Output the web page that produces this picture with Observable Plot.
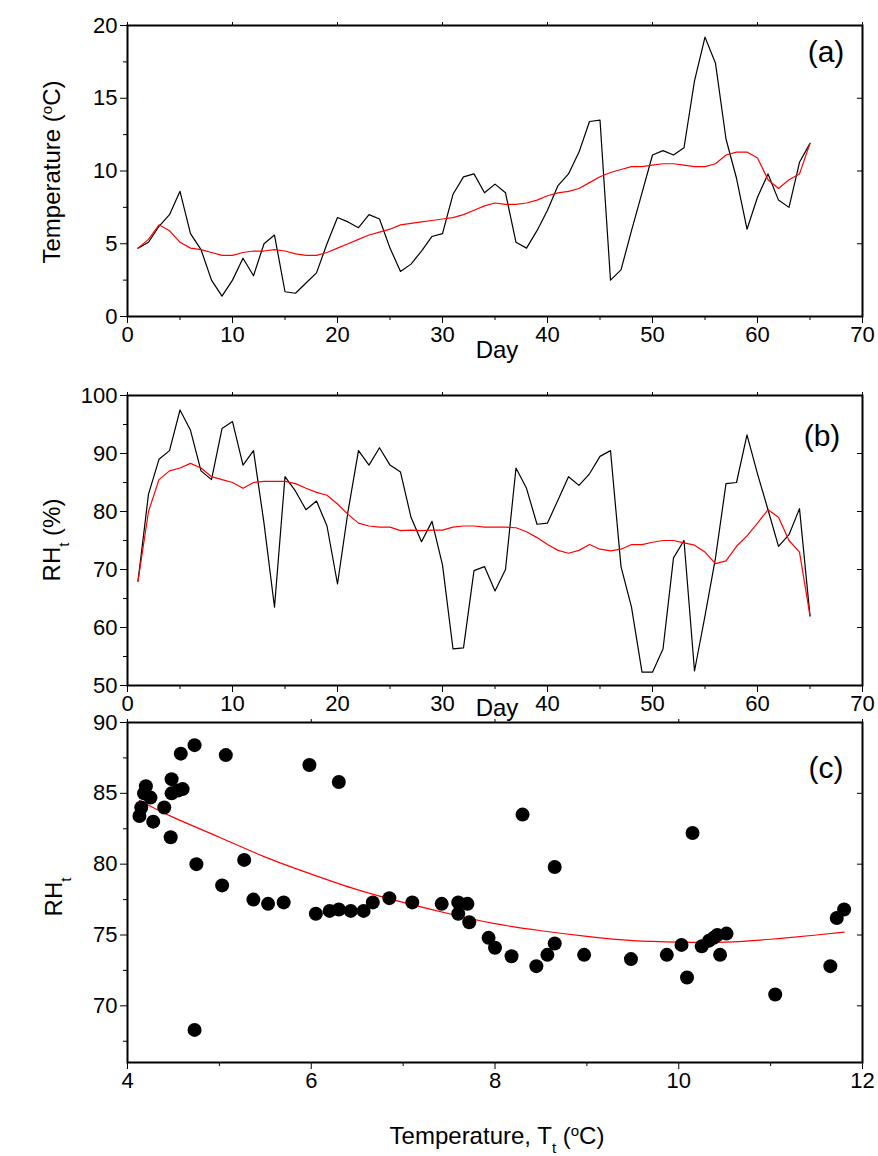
<!DOCTYPE html>
<html>
<head>
<meta charset="utf-8">
<script src="https://cdn.jsdelivr.net/npm/d3@7"></script>
<script src="https://cdn.jsdelivr.net/npm/@observablehq/plot@0.6"></script>
<style>
  body { margin: 0; background: #fff; }
  #wrap { position: relative; width: 878px; height: 1156px; }
  #wrap svg { position: absolute; left: 0; font-family: "Liberation Sans", Arial, sans-serif; overflow: visible; background: none; }
</style>
</head>
<body>
<div id="wrap"></div>
<script>
// day number for panels (a) and (b)
const days = d3.range(1, 66)
// panel (a): daily temperature and its running mean
const tempDaily = [4.7,5.1,6.2,7.0,8.6,5.7,4.6,2.5,1.4,2.5,4.0,2.8,5.0,5.6,1.7,1.6,2.3,3.0,5.0,6.8,6.5,6.1,7.0,6.7,4.7,3.1,3.6,4.5,5.5,5.7,8.4,9.6,9.8,8.5,9.1,8.5,5.1,4.7,5.9,7.3,9.0,9.8,11.3,13.4,13.5,2.5,3.2,5.9,8.5,11.1,11.4,11.1,11.6,16.2,19.2,17.4,12.2,9.5,6.0,8.2,9.8,8.0,7.5,10.6,11.9]
const tempMean = [4.7,5.3,6.3,5.9,5.1,4.7,4.6,4.4,4.2,4.2,4.4,4.5,4.5,4.6,4.5,4.3,4.2,4.2,4.4,4.7,5.0,5.3,5.6,5.8,6.0,6.3,6.4,6.5,6.6,6.7,6.8,7.0,7.3,7.6,7.8,7.7,7.7,7.8,8.0,8.3,8.5,8.6,8.8,9.2,9.6,9.9,10.1,10.3,10.3,10.4,10.5,10.5,10.4,10.3,10.3,10.5,11.1,11.3,11.3,10.9,9.4,8.8,9.4,9.8,11.9]
// panel (b): daily relative humidity and its running mean
const rhDaily = [68,83,89,90.5,97.5,94,87,85.5,94.3,95.5,88,90.5,78,63.5,86,83.5,80.3,81.8,77.5,67.5,80,90.5,88,91,88,86.8,79,74.8,78.3,70.8,56.3,56.5,69.8,70.5,66.3,70,87.5,84,77.8,78,82,86,84.5,86.5,89.5,90.5,70.5,63.5,52.3,52.3,56.3,72,75,52.5,62,72,84.8,85,93.2,86.5,80.3,74,76,80.5,62]
const rhMean = [68,80,85.5,87,87.5,88.3,87.5,86,85.5,85,84,85,85.2,85.2,85.2,84.8,84,83.3,82.8,81.3,79.5,78,77.5,77.3,77.3,76.7,76.8,76.7,76.8,76.8,77.3,77.5,77.5,77.3,77.3,77.3,77.2,76.5,75.5,74.3,73.3,72.8,73.3,74.3,73.5,73.2,73.5,74.3,74.3,74.7,75,75,74.6,74.2,73,71,71.5,74,75.8,78,80.3,79,75,73,62]
// panel (c): scatter of RH against temperature, with fitted curve
const scatT = [4.13,4.15,4.18,4.2,4.25,4.28,4.4,4.47,4.48,4.48,4.55,4.6,4.58,4.73,4.75,4.73,5.03,5.07,5.27,5.37,5.53,5.7,5.98,6.05,6.2,6.3,6.3,6.43,6.57,6.67,6.85,7.1,7.42,7.6,7.6,7.7,7.72,7.93,8.0,8.18,8.3,8.45,8.57,8.65,8.65,8.97,9.48,9.87,10.03,10.09,10.15,10.25,10.33,10.38,10.42,10.45,10.52,11.05,11.65,11.72,11.8]
const scatRH = [83.4,84.0,85.0,85.5,84.7,83.0,84.0,81.9,85.0,86.0,85.2,85.3,87.8,88.4,80.0,68.3,78.5,87.7,80.3,77.5,77.2,77.3,87.0,76.5,76.7,76.8,85.8,76.7,76.7,77.3,77.6,77.3,77.2,77.3,76.5,77.2,75.9,74.8,74.1,73.5,83.5,72.8,73.6,74.4,79.8,73.6,73.3,73.6,74.3,72.0,82.2,74.2,74.6,74.8,75.0,73.6,75.1,70.8,72.8,76.2,76.8]
const fitT = [4.13,4.5,5,5.5,6,6.5,7,7.5,8,8.5,9,9.5,10,10.5,11,11.5,11.8]
const fitRH = [84.5,83.3,81.9,80.5,79.3,78.2,77.3,76.5,75.8,75.3,74.9,74.6,74.5,74.5,74.7,75.0,75.2]

const font = "Liberation Sans, Arial, sans-serif"
const wrap = d3.select('#wrap')

function frameAxes(xMajor, xMinor, yMajor, yMinor) {
  return [
    Plot.frame({stroke: "black", strokeWidth: 2}),
    Plot.axisX({ticks: xMajor, tickSize: 7, tickWidth: 2, tickPadding: 3, fontSize: 22}),
    Plot.axisX({ticks: xMinor, tickSize: 4, tickWidth: 1.5, text: null}),
    Plot.axisX({anchor: "top", ticks: xMajor, tickSize: 4, tickWidth: 1.5, text: null}),
    Plot.axisY({ticks: yMajor, tickSize: 7, tickWidth: 2, tickPadding: 3, fontSize: 22}),
    Plot.axisY({ticks: yMinor, tickSize: 4, tickWidth: 1.5, text: null}),
    Plot.axisY({anchor: "right", ticks: yMajor, tickSize: -6, tickWidth: 1.5, text: null})
  ]
}

function addText(svg, x, y, parts, opts = {}) {
  const t = d3.select(svg).append("text")
    .attr("x", x).attr("y", y).attr("font-size", opts.size || 24)
    .attr("font-family", font).attr("text-anchor", opts.anchor || "middle")
  if (opts.rotate) t.attr("transform", `rotate(-90,${x},${y})`)
  parts.forEach(p => {
    const s = t.append("tspan").text(p.t)
    if (p.sup) s.attr("baseline-shift", "super").attr("font-size", 15)
    if (p.sub) s.attr("baseline-shift", "sub").attr("font-size", 15)
  })
}

const style = {fontFamily: font, color: "black", background: "none"}

// (a)
const chartA = Plot.plot({
  width: 878, height: 370, marginLeft: 127, marginRight: 16, marginTop: 25, marginBottom: 54,
  x: {domain: [0, 70], label: null},
  y: {domain: [0, 20], label: null},
  style,
  marks: [
    ...frameAxes(d3.range(0, 71, 10), d3.range(5, 70, 10), d3.range(0, 21, 5), d3.range(2.5, 20, 5)),
    Plot.line(days, {x: d => d, y: (d, i) => tempDaily[i], stroke: "black", strokeWidth: 1.2}),
    Plot.line(days, {x: d => d, y: (d, i) => tempMean[i], stroke: "red", strokeWidth: 1.2})
  ]
})
chartA.style.top = "0px"
wrap.append(() => chartA)
addText(chartA, 497, 358, [{t: "Day"}])
addText(chartA, 60, 172, [{t: "Temperature ("}, {t: "o", sup: true}, {t: "C)"}], {rotate: true})
addText(chartA, 826, 62, [{t: "(a)"}], {size: 30})

// (b)
const chartB = Plot.plot({
  width: 878, height: 370, marginLeft: 127, marginRight: 16, marginTop: 25, marginBottom: 55,
  x: {domain: [0, 70], label: null},
  y: {domain: [50, 100], label: null},
  style,
  marks: [
    ...frameAxes(d3.range(0, 71, 10), d3.range(5, 70, 10), d3.range(50, 101, 10), d3.range(55, 100, 10)),
    Plot.line(days, {x: d => d, y: (d, i) => rhDaily[i], stroke: "black", strokeWidth: 1.2}),
    Plot.line(days, {x: d => d, y: (d, i) => rhMean[i], stroke: "red", strokeWidth: 1.2})
  ]
})
chartB.style.top = "370px"
chartB.style.zIndex = "2"
wrap.append(() => chartB)
addText(chartB, 497, 346, [{t: "Day"}])
addText(chartB, 60, 170, [{t: "RH"}, {t: "t", sub: true}, {t: " (%)"}], {rotate: true})
addText(chartB, 822, 76, [{t: "(b)"}], {size: 30})

// (c)
const chartC = Plot.plot({
  width: 878, height: 459, marginLeft: 127, marginRight: 16, marginTop: 25, marginBottom: 94,
  x: {domain: [4, 12], label: null},
  y: {domain: [66, 90], label: null},
  style,
  marks: [
    ...frameAxes(d3.range(4, 12.1, 2), d3.range(5, 12, 2), d3.range(70, 91, 5), d3.range(67.5, 90, 5)),
    Plot.line(fitT, {x: d => d, y: (d, i) => fitRH[i], stroke: "red", strokeWidth: 1.2, curve: "natural"}),
    Plot.dot(scatT, {x: d => d, y: (d, i) => scatRH[i], r: 7, fill: "black"})
  ]
})
chartC.style.top = "697px"
chartC.style.zIndex = "1"
wrap.append(() => chartC)
addText(chartC, 497, 447, [{t: "Temperature, T"}, {t: "t", sub: true}, {t: " ("}, {t: "o", sup: true}, {t: "C)"}])
addText(chartC, 62, 200, [{t: "RH"}, {t: "t", sub: true}], {rotate: true})
addText(chartC, 826, 81, [{t: "(c)"}], {size: 30})
</script>
</body>
</html>
